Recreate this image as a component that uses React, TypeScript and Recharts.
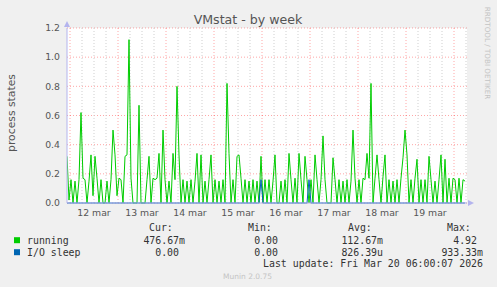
import { LineChart, Line, XAxis, YAxis, CartesianGrid, ReferenceLine } from "recharts";

// hours since 11 mar 00:00, one sample per hour
const START_HOUR = 22.5;
const END_HOUR = 222.5;

const running = [
  0.32, 0.02, 0.16, 0.0, 0.15, 0.0, 0.16, 0.62, 0.17, 0.16,
  0.0, 0.15, 0.33, 0.05, 0.32, 0.17, 0.0, 0.16, 0.0, 0.0,
  0.15, 0.0, 0.16, 0.5, 0.33, 0.05, 0.17, 0.16, 0.0, 0.32,
  0.33, 1.12, 0.17, 0.0, 0.0, 0.0, 0.67, 0.0, 0.0, 0.0,
  0.16, 0.32, 0.0, 0.17, 0.16, 0.17, 0.34, 0.0, 0.5, 0.16,
  0.0, 0.15, 0.0, 0.34, 0.16, 0.8, 0.33, 0.0, 0.16, 0.0,
  0.15, 0.0, 0.16, 0.0, 0.15, 0.34, 0.0, 0.33, 0.0, 0.15,
  0.0, 0.16, 0.33, 0.0, 0.16, 0.0, 0.15, 0.0, 0.16, 0.0,
  0.82, 0.34, 0.0, 0.16, 0.0, 0.32, 0.33, 0.17, 0.0, 0.16,
  0.0, 0.15, 0.0, 0.16, 0.0, 0.15, 0.0, 0.32, 0.0, 0.16,
  0.0, 0.16, 0.0, 0.15, 0.33, 0.0, 0.0, 0.15, 0.0, 0.16,
  0.0, 0.34, 0.16, 0.0, 0.17, 0.0, 0.34, 0.16, 0.0, 0.32,
  0.16, 0.0, 0.16, 0.0, 0.33, 0.16, 0.0, 0.16, 0.46, 0.16,
  0.0, 0.0, 0.0, 0.31, 0.16, 0.0, 0.16, 0.0, 0.15, 0.0,
  0.16, 0.0, 0.15, 0.5, 0.17, 0.0, 0.16, 0.0, 0.17, 0.16,
  0.34, 0.17, 0.82, 0.0, 0.17, 0.33, 0.16, 0.0, 0.18, 0.33,
  0.0, 0.16, 0.0, 0.15, 0.0, 0.16, 0.0, 0.17, 0.31, 0.5,
  0.33, 0.0, 0.16, 0.0, 0.17, 0.3, 0.0, 0.16, 0.0, 0.16,
  0.0, 0.32, 0.16, 0.0, 0.15, 0.0, 0.16, 0.33, 0.0, 0.3,
  0.0, 0.17, 0.0, 0.17, 0.16, 0.0, 0.17, 0.0, 0.16, 0.15,
];

const ioSleep = [
  0, 0, 0, 0, 0, 0, 0, 0, 0, 0, 0, 0, 0, 0, 0, 0, 0, 0, 0, 0,
  0, 0, 0, 0, 0, 0, 0, 0, 0, 0, 0, 0, 0, 0, 0, 0, 0, 0, 0, 0,
  0, 0, 0, 0, 0, 0, 0, 0, 0, 0, 0, 0, 0, 0, 0, 0, 0, 0, 0, 0,
  0, 0, 0, 0, 0, 0, 0, 0, 0, 0, 0, 0, 0, 0, 0, 0, 0, 0, 0, 0,
  0, 0, 0, 0, 0, 0, 0, 0, 0, 0, 0, 0, 0, 0, 0, 0, 0, 0.16, 0, 0,
  0, 0, 0, 0, 0, 0, 0, 0, 0, 0, 0, 0, 0, 0, 0, 0, 0, 0, 0, 0,
  0, 0.16, 0, 0, 0, 0, 0, 0, 0, 0, 0, 0, 0, 0, 0, 0, 0, 0, 0, 0,
  0, 0, 0, 0, 0, 0, 0, 0, 0, 0, 0, 0, 0, 0, 0, 0, 0, 0, 0, 0,
  0, 0, 0, 0, 0, 0, 0, 0, 0, 0, 0, 0, 0, 0, 0, 0, 0, 0, 0, 0,
  0, 0, 0, 0, 0, 0, 0, 0, 0, 0, 0, 0, 0, 0, 0, 0, 0, 0, 0, 0,
];

const dayTicks = [36, 60, 84, 108, 132, 156, 180, 204];
const dayLabels = ["12 mar", "13 mar", "14 mar", "15 mar", "16 mar", "17 mar", "18 mar", "19 mar"];
const midnights = [24, 48, 72, 96, 120, 144, 168, 192, 216];
const sixHours = [
  30, 36, 42, 54, 60, 66, 78, 84, 90, 102, 108, 114, 126, 132, 138,
  150, 156, 162, 174, 180, 186, 198, 204, 210, 222,
];
const yTicks = [0, 0.1, 0.2, 0.3, 0.4, 0.5, 0.6, 0.7, 0.8, 0.9, 1.0, 1.1, 1.2];

const legendRows = [
  { name: "running", color: "#00cc00", cur: "476.67m", min: "0.00", avg: "112.67m", max: "4.92" },
  { name: "I/O sleep", color: "#0066b3", cur: "0.00", min: "0.00", avg: "826.39u", max: "933.33m" },
];

const table = running.map((v, i) => ({ t: START_HOUR + i, running: v, ioSleep: ioSleep[i] }));

const AXIS = "#b4b4ee";
const MONO = "'DejaVu Sans Mono', monospace";
const SANS = "'DejaVu Sans', sans-serif";

// right-align number columns; values with a unit suffix end one char further
const colEnd = (base: number, s: string) => (/[a-z]$/i.test(s) ? base + 6 : base);

export default function App() {
  return (
    <div style={{ position: "absolute", left: 0, top: 0, width: 497, height: 287, background: "#f0f0f0" }}>
      <LineChart width={497} height={287} data={table} margin={{ top: 28, right: 30, bottom: 54, left: 27 }}>
        <CartesianGrid fill="#ffffff" vertical={false} stroke="#ff0000" strokeOpacity={0.35} strokeDasharray="1 2" />
        {sixHours.map((h) => (
          <ReferenceLine key={"m" + h} x={h} stroke="#cfcfcf" strokeDasharray="1 2" />
        ))}
        {midnights.map((h) => (
          <ReferenceLine key={"d" + h} x={h} stroke="#ff0000" strokeOpacity={0.35} strokeDasharray="1 2" />
        ))}
        <XAxis
          type="number"
          dataKey="t"
          domain={[START_HOUR, END_HOUR]}
          ticks={dayTicks}
          tickFormatter={(v) => dayLabels[dayTicks.indexOf(v)]}
          allowDataOverflow
          height={30}
          tickSize={0}
          tickMargin={6}
          axisLine={{ stroke: AXIS }}
          tick={{ fontSize: 9.3, fill: "#555", fontFamily: SANS }}
        />
        <YAxis
          type="number"
          domain={[0, 1.2]}
          ticks={yTicks}
          tickFormatter={(v) => v.toFixed(1)}
          width={40}
          tickSize={0}
          tickMargin={7}
          axisLine={{ stroke: AXIS }}
          tick={{ fontSize: 9.3, fill: "#555", fontFamily: SANS }}
        />
        <Line dataKey="running" stroke="#00cc00" strokeWidth={1} dot={false} isAnimationActive={false} type="linear" />
        <Line dataKey="ioSleep" stroke="#0066b3" strokeWidth={1} dot={false} isAnimationActive={false} type="linear" />
      </LineChart>

      <svg width={497} height={287} style={{ position: "absolute", left: 0, top: 0, pointerEvents: "none" }}>
        <text x={248} y={24} textAnchor="middle" fontSize={12.6} fill="#555" fontFamily={SANS}>
          VMstat - by week
        </text>
        <text
          transform="translate(15,113) rotate(-90)"
          textAnchor="middle"
          fontSize={10.8}
          fill="#555"
          fontFamily={SANS}
        >
          process states
        </text>
        <text
          transform="translate(485,53) rotate(90)"
          textAnchor="middle"
          fontSize={7.2}
          fill="#c4c4c4"
          fontFamily={SANS}
        >
          RRDTOOL / TOBI OETIKER
        </text>
        <polygon points="64,27 70,27 67,21" fill={AXIS} />
        <polygon points="468,200 468,206 474,203" fill={AXIS} />

        <g fontFamily={MONO} fontSize={9.9} fill="#333">
          <text x={149} y={231}>Cur:</text>
          <text x={248} y={231}>Min:</text>
          <text x={348} y={231}>Avg:</text>
          <text x={447} y={231}>Max:</text>
          {legendRows.map((r, i) => {
            const y = 243.5 + i * 12;
            return (
              <g key={r.name}>
                <rect x={14} y={y - 6.3} width={6} height={6} fill={r.color} />
                <text x={27} y={y}>{r.name}</text>
                <text x={colEnd(179, r.cur)} y={y} textAnchor="end">{r.cur}</text>
                <text x={colEnd(278, r.min)} y={y} textAnchor="end">{r.min}</text>
                <text x={colEnd(377, r.avg)} y={y} textAnchor="end">{r.avg}</text>
                <text x={colEnd(477, r.max)} y={y} textAnchor="end">{r.max}</text>
              </g>
            );
          })}
          <text x={483} y={267.3} textAnchor="end">Last update: Fri Mar 20 06:00:07 2026</text>
        </g>
        <text x={247.5} y={279} textAnchor="middle" fontSize={7.5} fill="#c4c4c4" fontFamily={SANS}>
          Munin 2.0.75
        </text>
      </svg>
    </div>
  );
}
